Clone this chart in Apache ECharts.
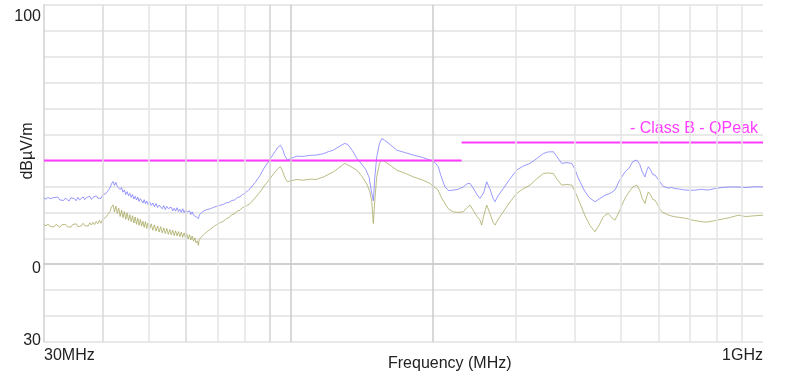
<!DOCTYPE html>
<html><head><meta charset="utf-8">
<script src="https://cdn.jsdelivr.net/npm/echarts@6/dist/echarts.min.js"></script>
<style>html,body{margin:0;padding:0;background:#fff}#c{width:788px;height:385px}</style>
</head><body><div id="c"></div>
<script>
// ---- data ----
var yTickLabels = {"100": "100", "0": "0", "-30": "30"};
var xTickLabels = {"30": "30MHz", "1000": "1GHz"};
var xGridFreqs = [40,50,60,70,80,90,100,200,300,400,500,600,700,800,900];
var limitQPeak = [[30,40],[230,40],[230,'-'],[230,47],[1000,47]];
var peakTrace = [[30,25.6],[30.3,25.1],[30.6,25.8],[30.9,25.3],[31.2,24.9],[31.5,25.7],[31.8,25.2],[32.1,25.9],[32.4,24.8],[32.7,25.4],[33.0,24.6],[33.3,25.5],[33.6,25.0],[33.9,24.4],[34.2,25.6],[34.5,24.9],[34.8,25.3],[35.1,24.5],[35.4,25.8],[35.7,24.8],[36.0,25.4],[36.3,26.0],[36.6,24.9],[36.9,25.7],[37.2,25.1],[37.5,26.2],[37.8,25.0],[38.1,25.8],[38.4,25.3],[38.7,26.4],[39.0,25.5],[39.3,26.1],[39.6,25.4],[39.9,26.6],[40.2,26.0],[40.5,27.2],[40.8,26.8],[41.1,28.6],[41.4,29.5],[41.7,31.0],[42.0,31.9],[42.3,30.4],[42.6,31.6],[42.9,30.0],[43.2,30.6],[43.5,28.8],[43.8,29.6],[44.1,27.8],[44.4,28.6],[44.7,26.9],[45.0,28.0],[45.3,26.4],[45.6,27.3],[45.9,25.8],[46.2,26.9],[46.5,25.2],[46.8,26.2],[47.1,24.8],[47.4,25.9],[47.7,24.2],[48.0,25.3],[48.3,24.5],[48.6,23.6],[48.9,24.9],[49.2,23.4],[49.5,24.4],[49.8,23.0],[50.2,24.2],[50.6,22.7],[51.0,23.6],[51.4,22.2],[51.8,23.4],[52.2,21.9],[52.6,22.8],[53.0,22.4],[53.4,21.4],[53.8,22.6],[54.2,21.1],[54.6,22.3],[55.0,21.5],[55.4,20.8],[55.8,22.0],[56.2,20.6],[56.6,21.6],[57.0,20.5],[57.4,21.8],[57.8,20.3],[58.2,21.2],[58.6,20.0],[59.0,21.4],[59.4,19.9],[59.8,20.9],[60.2,20.1],[60.6,19.4],[61.0,20.6],[61.4,19.2],[61.8,20.2],[62.2,18.9],[62.6,19.6],[63.0,18.3],[63.4,18.9],[63.7,17.6],[64.0,19.0],[64.4,18.6],[64.8,20.0],[65.2,19.5],[65.6,20.7],[66.0,20.2],[66.5,21.1],[67,20.6],[67.5,21.4],[68,21.0],[68.5,21.9],[69,21.5],[69.5,22.3],[70,21.9],[71,22.8],[72,23.1],[73,23.7],[74,23.9],[75,24.6],[76,24.8],[77,25.7],[78,26.0],[79,26.9],[80,27.4],[82,29.2],[84,31.5],[86,34.2],[88,37.5],[90,40.0],[92,42.8],[94,45.2],[95,45.9],[96,44.6],[97,42.0],[98.3,40.2],[100,40.8],[103,41.7],[106,41.6],[110,42.0],[113,42.1],[117,42.6],[120,43.4],[123,44.0],[126,45.2],[130,46.6],[132,46.2],[135,43.8],[138,40.8],[141,38.8],[144,36.6],[146.5,33.5],[148,28.5],[149.5,24.5],[150.5,33.0],[152,41.4],[154,46.5],[155.8,48.5],[158,47.8],[162,46.3],[167.6,44.0],[175,43.0],[181.7,42.1],[190,41.2],[197,40.2],[202,39.2],[205.2,37.6],[208,34.0],[212,29.8],[216,28.4],[220.8,28.6],[226,28.9],[231.8,29.8],[236,31.0],[239.6,31.2],[244,29.0],[248,26.8],[251.5,25.4],[253.6,24.7],[256,27.5],[259.9,31.8],[264,29.0],[268,25.5],[270.6,24.1],[275,26.5],[281.8,29.2],[290,32.5],[300.8,36.3],[310,37.8],[321,38.9],[332,40.8],[342.7,42.7],[350,43.3],[359.8,43.4],[366,41.5],[374.8,38.9],[384,39.2],[393.6,38.9],[400,36.5],[405,33.8],[409.7,31.8],[418,28.6],[428,25.8],[440.7,24.1],[450,25.2],[462.8,26.6],[470,27.0],[477,27.6],[485.9,28.6],[495,31.8],[510,35.6],[520,37.0],[530,39.6],[540,40.2],[548,38.6],[555,35.6],[562.4,33.7],[567,36.0],[571.6,37.6],[578,36.4],[584,34.6],[590.6,34.4],[598,33.0],[606,31.6],[613,30.2],[620,29.8],[630,29.4],[640,29.6],[651,29.2],[665,29.0],[680,28.7],[700,28.5],[720,28.6],[740,28.9],[765,28.6],[790,29.2],[820,29.6],[850,29.8],[886,29.8],[920,29.6],[960,29.9],[1000,29.8]];
var avgTrace = [[30,15.3],[30.3,14.8],[30.6,15.5],[30.9,14.6],[31.2,15.1],[31.5,14.4],[31.8,15.4],[32.1,14.9],[32.4,14.3],[32.7,15.2],[33.0,14.6],[33.3,15.4],[33.6,14.5],[33.9,15.0],[34.2,14.3],[34.5,15.3],[34.8,14.7],[35.1,15.6],[35.4,14.5],[35.7,15.2],[36.0,14.8],[36.3,15.8],[36.6,14.9],[36.9,15.5],[37.2,14.7],[37.5,16.0],[37.8,15.1],[38.1,16.2],[38.4,15.3],[38.7,16.5],[39.0,15.6],[39.3,16.9],[39.6,15.8],[39.9,17.3],[40.2,16.6],[40.5,18.0],[40.8,17.4],[41.1,19.6],[41.4,20.4],[41.7,22.1],[42.0,22.9],[42.3,20.2],[42.6,22.4],[42.9,19.6],[43.2,21.6],[43.5,18.4],[43.8,20.9],[44.1,17.9],[44.4,20.3],[44.7,17.3],[45.0,19.8],[45.3,16.9],[45.6,19.1],[45.9,16.4],[46.2,18.7],[46.5,15.9],[46.8,18.2],[47.1,15.4],[47.4,17.8],[47.7,15.0],[48.0,17.3],[48.3,14.7],[48.6,16.6],[48.9,14.2],[49.2,16.4],[49.5,13.8],[49.8,15.9],[50.2,13.5],[50.6,15.6],[51.0,13.1],[51.4,15.2],[51.8,12.8],[52.2,14.7],[52.6,12.4],[53.0,14.5],[53.4,12.1],[53.8,14.0],[54.2,11.8],[54.6,13.8],[55.0,11.5],[55.4,13.4],[55.8,11.3],[56.2,13.2],[56.6,11.0],[57.0,12.9],[57.4,10.9],[57.8,12.6],[58.2,10.6],[58.6,12.4],[59.0,10.4],[59.4,12.1],[59.8,10.2],[60.2,11.8],[60.6,9.8],[61.0,11.4],[61.4,9.4],[61.8,10.9],[62.2,8.9],[62.6,10.2],[63.0,8.2],[63.4,9.0],[63.7,7.3],[64.0,9.6],[64.4,9.0],[64.8,10.8],[65.2,10.2],[65.6,11.7],[66.0,11.2],[66.5,12.6],[67,12.2],[67.5,13.5],[68,13.3],[68.5,14.4],[69,14.2],[69.5,15.2],[70,15.1],[71,16.1],[72,16.6],[73,17.6],[74,18.0],[75,19.2],[76,19.4],[77,20.6],[78,20.8],[79,21.9],[80,22.2],[82,23.4],[84,25.6],[86,27.8],[88,30.4],[90,32.6],[92,35.0],[94,37.0],[95,37.6],[96,36.0],[97,33.6],[98.3,31.8],[100,32.2],[103,32.7],[106,32.4],[110,32.8],[113,32.7],[117,33.6],[120,34.6],[123,35.6],[126,37.0],[130,38.9],[133,38.0],[137.9,36.3],[141,34.2],[144.8,31.0],[147,28.0],[148.4,24.1],[149.5,15.7],[150.5,24.0],[152,33.7],[154,38.8],[155.8,40.2],[160,39.0],[167.6,36.3],[175,35.0],[181.7,33.7],[190,32.5],[197,31.2],[205,28.6],[208,26.0],[212,23.4],[216,21.2],[220.8,20.2],[226,20.0],[231.8,20.2],[236,21.8],[239.6,22.8],[244,20.4],[248,18.4],[251.5,17.0],[253.6,15.1],[256,18.6],[259.9,22.8],[264,19.6],[268,16.2],[270.6,15.1],[275,17.4],[281.8,20.2],[290,23.6],[300.8,27.3],[310,29.0],[321,30.5],[332,33.0],[342.7,35.0],[350,35.2],[359.8,35.0],[366,32.8],[374.8,30.5],[384,30.8],[393.6,30.5],[400,28.0],[405,25.6],[409.7,23.4],[420,18.6],[430,15.0],[440.7,12.5],[450,15.2],[458,18.0],[462.8,18.9],[470,19.6],[478,18.0],[485.9,17.0],[495,20.0],[510,25.4],[520,27.8],[530,29.8],[540,30.5],[548,28.6],[555,25.4],[562.4,23.4],[567,26.0],[571.6,27.9],[578,26.8],[584,25.0],[590.6,24.7],[598,23.0],[606,21.0],[613,20.0],[620,19.6],[630,19.0],[640,18.6],[651,18.3],[670,18.0],[690,17.6],[710,17.0],[730,16.6],[750,16.3],[765,16.3],[790,16.8],[820,17.4],[850,18.0],[886,18.9],[920,18.4],[960,18.7],[1000,18.9]];
var darkGrid = {90: '#d2d2d2', 100: '#cbcbcb', 200: '#cbcbcb', 40: '#d8d8d8', 60: '#d8d8d8'};

var FONT = '"Liberation Sans", Arial, sans-serif';
var chart = echarts.init(document.getElementById('c'), null, {renderer: 'canvas'});
var gridLines = xGridFreqs.map(function (f) {
  return {xAxis: f, lineStyle: {color: darkGrid[f] || '#e4e4e4', width: 1.5, type: 'solid'}};
});
chart.setOption({
  animation: false,
  backgroundColor: '#fff',
  grid: {left: 44, right: 25, top: 5, bottom: 43, containLabel: false},
  xAxis: {
    type: 'log', logBase: 10, min: 30, max: 1000,
    axisLine: {show: true, lineStyle: {color: '#c8c8c8', width: 1.5}},
    axisTick: {show: false},
    splitLine: {show: false},
    axisLabel: {
      show: true, customValues: [30, 1000], alignMinLabel: 'left', alignMaxLabel: 'right',
      formatter: function (v) { return xTickLabels[String(Math.round(v))] || ''; },
      color: '#222', fontFamily: FONT, fontSize: 16, margin: 6
    }
  },
  yAxis: {
    type: 'value', min: -30, max: 100, interval: 10,
    axisLine: {show: true, lineStyle: {color: '#d0d0d0', width: 1.5}},
    axisTick: {show: false},
    splitLine: {show: true, lineStyle: {color: '#e2e2e2', width: 1.5}},
    axisLabel: {
      color: '#222', fontFamily: FONT, fontSize: 16, margin: 3,
      formatter: function (v) {
        var t = yTickLabels[String(v)];
        if (t === undefined) return '';
        if (v === 100) return '{a|' + t + '}';
        if (v === 0) return '{b|' + t + '}';
        return '{c|' + t + '}';
      },
      rich: {
        a: {padding: [24, 0, 0, 0], fontFamily: FONT, fontSize: 16, color: '#222'},
        b: {padding: [9, 0, 0, 0], fontFamily: FONT, fontSize: 16, color: '#222'},
        c: {padding: [0, 0, 2, 0], fontFamily: FONT, fontSize: 16, color: '#222'}
      }
    }
  },
  graphic: [
    {type: 'text', left: 388, top: 356, style: {text: 'Frequency (MHz)', font: '16px ' + FONT, fill: '#222'}},
    {type: 'text', x: 28, y: 151, rotation: Math.PI / 2, style: {text: 'dBµV/m', font: '16px ' + FONT, fill: '#222', align: 'center', verticalAlign: 'middle'}},
    {type: 'text', x: 758, y: 129, style: {text: '- Class B - QPeak', font: '16px ' + FONT, fill: '#ff3cff', align: 'right', verticalAlign: 'middle'}}
  ],
  series: [
    {type: 'line', data: [], silent: true, markLine: {silent: true, symbol: 'none', label: {show: false}, data: gridLines}},
    {name: 'Peak', type: 'line', data: peakTrace, showSymbol: false, z: 3,
     lineStyle: {color: 'rgba(110,110,255,0.7)', width: 1}},
    {name: 'Average', type: 'line', data: avgTrace, showSymbol: false, z: 3,
     lineStyle: {color: 'rgba(160,160,80,0.7)', width: 1}},
    {name: 'Class B QPeak', type: 'line', data: limitQPeak, showSymbol: false, connectNulls: false, z: 4,
     lineStyle: {color: '#ff3cff', width: 2}}
  ]
});
</script></body></html>
